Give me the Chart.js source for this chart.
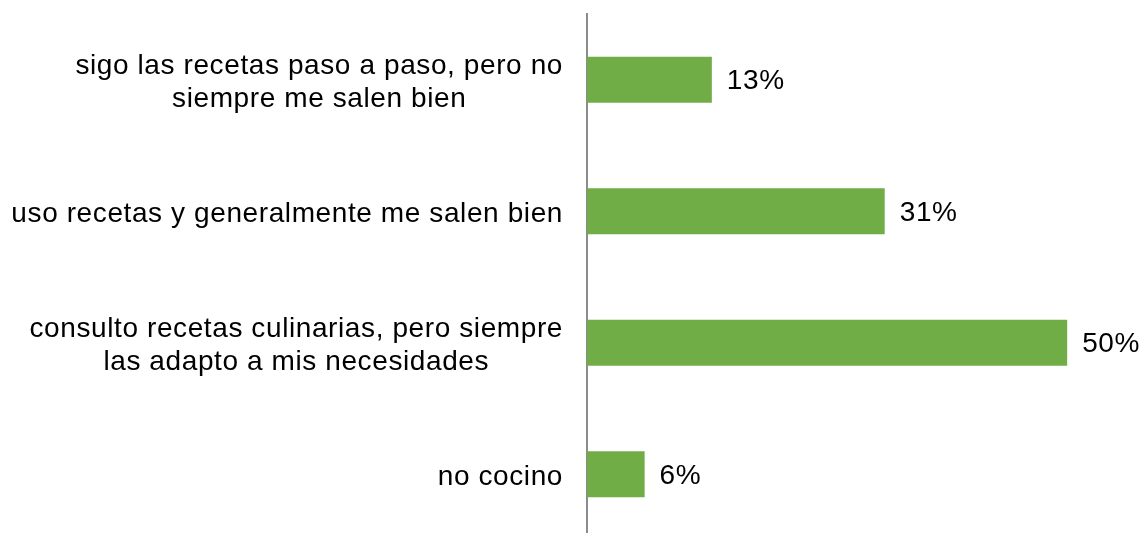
<!DOCTYPE html>
<html>
<head>
<meta charset="utf-8">
<script src="https://cdn.jsdelivr.net/npm/chart.js@4"></script>
<style>
  html, body { margin: 0; padding: 0; background: #fff; overflow: hidden; }
  #wrap { width: 1144px; height: 545px; }
</style>
</head>
<body>
<div id="wrap"><canvas id="myChart"></canvas></div>
<script>
"use strict";

let categories = [
    ['sigo las recetas paso a paso, pero no', 'siempre me salen bien'],
    ['uso recetas y generalmente me salen bien'],
    ['consulto recetas culinarias, pero siempre', 'las adapto a mis necesidades'],
    ['no cocino']
];
let percentValues = [13, 31, 50, 6];
let valueLabels = ['13%', '31%', '50%', '6%'];

let fontFamily = 'Arial, "Liberation Sans", sans-serif';
let fontSize = 28;

// draws the category labels: block right aligned, lines centered in the block
let categoryLabels = {
    id: 'categoryLabels',
    afterDraw(chart) {
        let ctx = chart.ctx;
        let yScale = chart.scales.y;
        let right = chart.chartArea.left - 24;
        let lineHeight = 33;
        ctx.save();
        ctx.font = fontSize + 'px ' + fontFamily;
        ctx.letterSpacing = '0.6px';
        ctx.fillStyle = '#000';
        ctx.textAlign = 'center';
        ctx.textBaseline = 'middle';
        categories.forEach((lines, i) => {
            let widest = Math.max(...lines.map(l => ctx.measureText(l).width));
            let cx = right - widest / 2;
            let cy = yScale.getPixelForTick(i);
            let startY = cy - (lines.length - 1) * lineHeight / 2 + 3;
            lines.forEach((line, j) => {
                ctx.fillText(line, cx, startY + j * lineHeight);
            });
        });
        ctx.restore();
    }
};

// percent labels at the end of the bars
let barValueLabels = {
    id: 'barValueLabels',
    afterDatasetsDraw(chart) {
        let ctx = chart.ctx;
        let meta = chart.getDatasetMeta(0);
        ctx.save();
        ctx.font = fontSize + 'px ' + fontFamily;
        ctx.letterSpacing = '0.6px';
        ctx.fillStyle = '#000';
        ctx.textAlign = 'left';
        ctx.textBaseline = 'middle';
        meta.data.forEach((bar, i) => {
            ctx.fillText(valueLabels[i], bar.x + 15, bar.y + 2);
        });
        ctx.restore();
    }
};

let myChartBar = document.getElementById('myChart').getContext('2d');

const data = {
    labels: categories,
    datasets: [{
        data: percentValues,
        backgroundColor: '#70AD47',
        borderWidth: 0,
        barPercentage: 1,
        categoryPercentage: 0.35
    }]
};

const config = {
    type: 'bar',
    data: data,
    options: {
        indexAxis: 'y',
        responsive: true,
        maintainAspectRatio: false,
        animation: false,
        layout: {
            padding: { top: 14, bottom: 5, left: 0, right: 0 }
        },
        plugins: {
            legend: { display: false },
            tooltip: { enabled: false }
        },
        scales: {
            x: {
                display: false,
                min: 0,
                max: 58
            },
            y: {
                ticks: { display: false },
                grid: { display: false },
                border: { display: true, color: '#8c8c8c', width: 2 },
                afterFit(scale) {
                    scale.width = 587;
                }
            }
        }
    },
    plugins: [categoryLabels, barValueLabels]
};

const myChart = new Chart(myChartBar, config);
</script>
</body>
</html>
